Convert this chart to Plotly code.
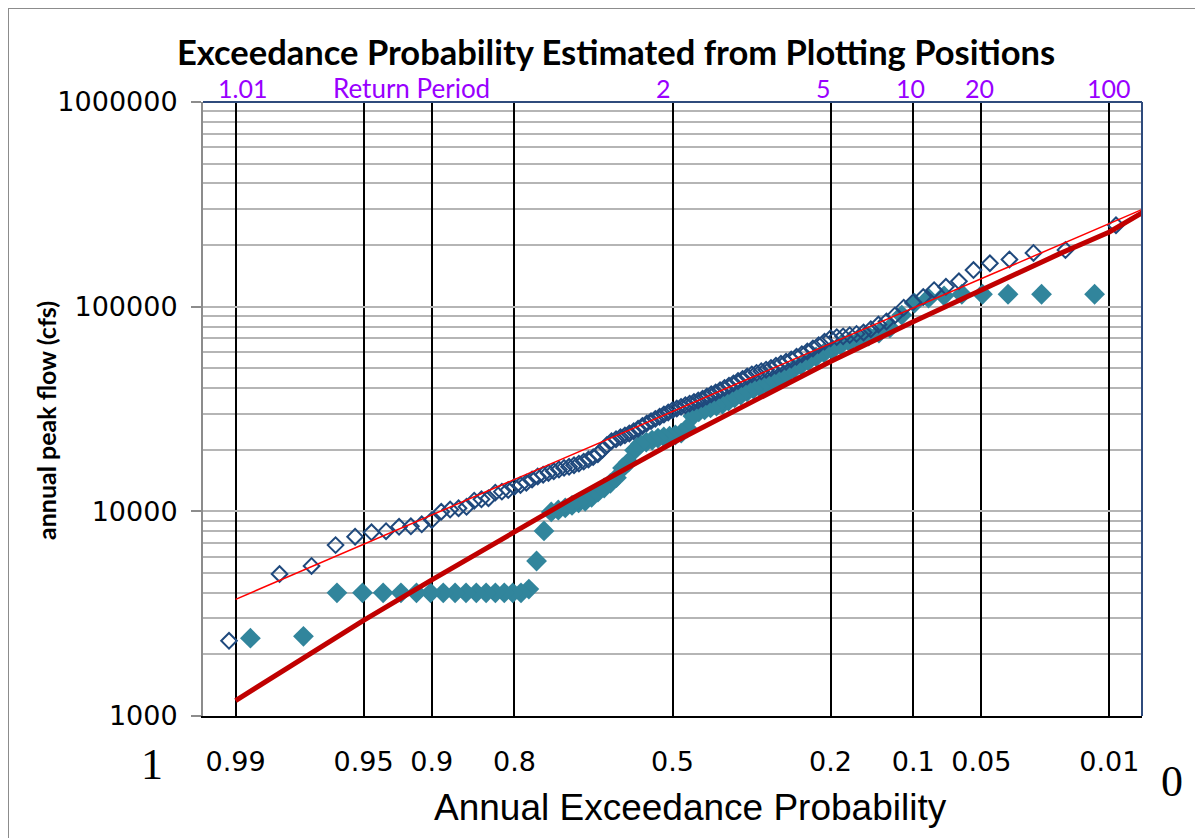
import plotly.graph_objects as go
from statistics import NormalDist

# ---------------- data ----------------
# Series 1 (open diamonds): exceedance probability and annual peak flow (cfs)
open_prob = [
    0.0091, 0.0182, 0.0273, 0.0364, 0.0455, 0.0545, 0.0636, 0.0727, 0.0818, 0.0909,
    0.1000, 0.1091, 0.1182, 0.1273, 0.1364, 0.1455, 0.1545, 0.1636, 0.1727, 0.1818,
    0.1909, 0.2000, 0.2091, 0.2182, 0.2273, 0.2364, 0.2455, 0.2545, 0.2636, 0.2727,
    0.2818, 0.2909, 0.3000, 0.3091, 0.3182, 0.3273, 0.3364, 0.3455, 0.3545, 0.3636,
    0.3727, 0.3818, 0.3909, 0.4000, 0.4091, 0.4182, 0.4273, 0.4364, 0.4455, 0.4545,
    0.4636, 0.4727, 0.4818, 0.4909, 0.5000, 0.5091, 0.5182, 0.5273, 0.5364, 0.5455,
    0.5545, 0.5636, 0.5727, 0.5818, 0.5909, 0.6000, 0.6091, 0.6182, 0.6273, 0.6364,
    0.6455, 0.6545, 0.6636, 0.6727, 0.6818, 0.6909, 0.7000, 0.7091, 0.7182, 0.7273,
    0.7364, 0.7455, 0.7545, 0.7636, 0.7727, 0.7818, 0.7909, 0.8000, 0.8091, 0.8182,
    0.8273, 0.8364, 0.8455, 0.8545, 0.8636, 0.8727, 0.8818, 0.8909, 0.9000, 0.9091,
    0.9182, 0.9273, 0.9364, 0.9455, 0.9545, 0.9636, 0.9727, 0.9818, 0.9909,
]
open_flow = [
    250000, 189000, 183000, 170000, 163000, 151000, 133000, 125000, 120500, 111400,
    105200, 98900, 90600, 84700, 81800, 77600, 74800, 73600, 72600, 71600,
    71000, 70100, 67500, 64900, 62500, 60400, 58600, 56900, 55200, 53800,
    52600, 51400, 50200, 49200, 48400, 47500, 46700, 45600, 44400, 43300,
    42200, 41100, 40100, 39100, 38100, 37300, 36400, 35500, 34800, 34200,
    33600, 33000, 32400, 31800, 31200, 30400, 29700, 29000, 28300, 27600,
    26900, 26100, 25300, 24600, 24000, 23500, 23000, 22500, 22000, 21100,
    20000, 19000, 18400, 17900, 17500, 17100, 16800, 16500, 16300, 16000,
    15700, 15400, 15100, 14800, 14300, 13800, 13450, 13190, 12710, 12480,
    12340, 11590, 11450, 11270, 10520, 10350, 10200, 9950, 9060, 8640,
    8450, 8400, 8000, 7900, 7520, 6840, 5410, 4940, 2330,
]

# Series 2 (filled diamonds)
filled_prob = [
    0.0123, 0.0247, 0.0370, 0.0494, 0.0617, 0.0741, 0.0864, 0.0988, 0.1111, 0.1235,
    0.1358, 0.1481, 0.1605, 0.1728, 0.1852, 0.1975, 0.2099, 0.2222, 0.2346, 0.2469,
    0.2593, 0.2716, 0.2840, 0.2963, 0.3086, 0.3210, 0.3333, 0.3457, 0.3580, 0.3704,
    0.3827, 0.3951, 0.4074, 0.4198, 0.4321, 0.4444, 0.4568, 0.4691, 0.4815, 0.4938,
    0.5062, 0.5185, 0.5309, 0.5432, 0.5556, 0.5679, 0.5802, 0.5926, 0.6049, 0.6173,
    0.6296, 0.6420, 0.6543, 0.6667, 0.6790, 0.6914, 0.7037, 0.7160, 0.7284, 0.7407,
    0.7531, 0.7654, 0.7778, 0.7901, 0.8025, 0.8148, 0.8272, 0.8395, 0.8519, 0.8642,
    0.8765, 0.8889, 0.9012, 0.9136, 0.9259, 0.9383, 0.9506, 0.9630, 0.9753, 0.9877,
]
filled_flow = [
    115000, 115000, 115000, 115000, 115000, 113000, 110000, 104000, 91000, 78700,
    74300, 71800, 68700, 67200, 64900, 61400, 59400, 56800, 54300, 51800,
    49600, 46900, 44800, 43300, 41900, 40500, 39600, 38300, 37000, 35800,
    34600, 33400, 32700, 32000, 31300, 30600, 29200, 25500, 24100, 23600,
    23300, 23100, 22800, 22300, 21800, 21300, 19900, 17400, 16300, 14600,
    13700, 13000, 12400, 11700, 11200, 11000, 10700, 10400, 10150, 9930,
    8020, 5720, 4170, 4000, 4000, 4000, 4000, 4000, 4000, 4000,
    4000, 4000, 4000, 4000, 4000, 4000, 4000, 4000, 2450, 2400,
]

# Fitted frequency curves
thick_fit_prob = [0.99, 0.98, 0.95, 0.9, 0.8, 0.7, 0.5, 0.3, 0.2, 0.1, 0.05, 0.02, 0.01, 0.0061]
thick_fit_flow = [1190, 1712, 2935, 4620, 7925, 11700, 21570, 38450, 54000, 84500, 121100, 180100, 231700, 290000]
thin_fit_prob = [0.99, 0.5, 0.01, 0.0061]
thin_fit_flow = [3715, 30700, 254000, 300000]

# Axis labels
prob_ticks = [0.99, 0.95, 0.9, 0.8, 0.5, 0.2, 0.1, 0.05, 0.01]
prob_tick_text = ["0.99", "0.95", "0.9", "0.8", "0.5", "0.2", "0.1", "0.05", "0.01"]
flow_ticks = [1000, 10000, 100000, 1000000]
flow_tick_text = ["1000", "10000", "100000", "1000000"]
return_periods = [1.01, 2, 5, 10, 20, 100]
return_labels = ["1.01", "2", "5", "10", "20", "100"]
return_shift = [8, -9, -7, -3, -2, 0]

# ---------------- helpers ----------------
nd = NormalDist()


def zq(p):
    """Normal-probability scale position of an exceedance probability."""
    return nd.inv_cdf(1 - p)


fig = go.Figure()

fig.add_trace(go.Scatter(
    x=[zq(p) for p in filled_prob], y=filled_flow, mode="markers",
    marker=dict(symbol="diamond", size=16, color="#31859C", line=dict(width=0)),
))
fig.add_trace(go.Scatter(
    x=[zq(p) for p in open_prob], y=open_flow, mode="markers",
    marker=dict(symbol="diamond-open", size=12, color="#1F497D",
                line=dict(width=2, color="#1F497D")),
))
fig.add_trace(go.Scatter(
    x=[zq(p) for p in thin_fit_prob], y=thin_fit_flow, mode="lines",
    line=dict(color="#FF0000", width=1.5),
))
fig.add_trace(go.Scatter(
    x=[zq(p) for p in thick_fit_prob], y=thick_fit_flow, mode="lines",
    line=dict(color="#C00000", width=5),
))

minor_flow = [k * 10 ** d for d in (3, 4, 5) for k in range(2, 10)]

# page has an 8px body margin; the figure is sized to fill the rest of the window
OFF = 8
W, H = 1195, 830
L, R, T, B = 195, 61, 94, 122
PW, PH = W - L - R, H - T - B


def px(xp):
    """page x pixel -> paper coordinate"""
    return (xp - OFF - L) / PW


def py(yp):
    """page y pixel -> paper coordinate"""
    return (H - B - (yp - OFF)) / PH


fig.update_layout(
    width=W, height=H,
    margin=dict(l=L, r=R, t=T, b=B, pad=0),
    paper_bgcolor="white", plot_bgcolor="white",
    showlegend=False,
    xaxis=dict(
        range=[-2.5, 2.5], tickvals=[zq(p) for p in prob_ticks], ticktext=prob_tick_text,
        showgrid=True, gridcolor="#000000", gridwidth=1.5, zeroline=False,
        ticks="", showline=True, linecolor="#000000", linewidth=2,
        tickfont=dict(family="DejaVu Sans", size=27, color="#000000"),
        ticklabelstandoff=21,
    ),
    yaxis=dict(
        type="log", range=[3, 6], tickvals=flow_ticks, ticktext=flow_tick_text,
        showgrid=True, gridcolor="#B5B5B5", gridwidth=2, zeroline=False,
        minor=dict(tickvals=minor_flow, showgrid=True, gridcolor="#B5B5B5", gridwidth=2, ticks=""),
        ticks="outside", ticklen=10, tickwidth=2, tickcolor="#8C8C8C",
        showline=True, linecolor="#8C8C8C", linewidth=2,
        tickfont=dict(family="DejaVu Sans", size=27, color="#000000"),
        ticklabelstandoff=8,
    ),
)

shapes = [
    # top and right plot borders
    dict(type="line", xref="paper", yref="paper", x0=0, x1=1, y0=1, y1=1,
         line=dict(color="#2F4B7C", width=2)),
    dict(type="line", xref="paper", yref="paper", x0=1, x1=1, y0=0, y1=1,
         line=dict(color="#2F4B7C", width=2)),
    # outer chart frame
    dict(type="rect", xref="paper", yref="paper", x0=px(8), x1=px(1196), y0=py(850), y1=py(8),
         line=dict(color="#8C8C8C", width=2), fillcolor="rgba(0,0,0,0)", layer="below"),
]
fig.update_layout(shapes=shapes)

ann = []
ann.append(dict(text="<b>Exceedance Probability Estimated from Plotting Positions</b>",
                xref="paper", yref="paper", x=px(616), y=py(52), showarrow=False,
                font=dict(family="Lato", size=34.5, color="#000000"),
                xanchor="center", yanchor="middle"))
for T_, lab, sh in zip(return_periods, return_labels, return_shift):
    ann.append(dict(text=lab, xref="x", yref="paper", x=zq(1 / T_), y=py(88), xshift=sh,
                    showarrow=False, font=dict(family="Lato", size=25, color="#9900FF"),
                    xanchor="center", yanchor="middle"))
ann.append(dict(text="Return Period", xref="paper", yref="paper", x=px(411), y=py(88),
                showarrow=False, font=dict(family="Lato", size=26, color="#9900FF"),
                xanchor="center", yanchor="middle"))
ann.append(dict(text="<b>annual peak flow (cfs)</b>", xref="paper", yref="paper",
                x=px(46), y=py(421), textangle=-90, showarrow=False,
                font=dict(family="Lato", size=25, color="#000000"),
                xanchor="center", yanchor="middle"))
ann.append(dict(text="Annual Exceedance Probability", xref="paper", yref="paper",
                x=px(690), y=py(807), showarrow=False,
                font=dict(family="Liberation Sans", size=37, color="#000000"),
                xanchor="center", yanchor="middle"))
ann.append(dict(text="1", xref="paper", yref="paper", x=px(152), y=py(764), showarrow=False,
                font=dict(family="Liberation Serif", size=44, color="#000000"),
                xanchor="center", yanchor="middle"))
ann.append(dict(text="0", xref="paper", yref="paper", x=px(1172), y=py(781), showarrow=False,
                font=dict(family="Liberation Serif", size=44, color="#000000"),
                xanchor="center", yanchor="middle"))
fig.update_layout(annotations=ann)

fig.write_html("out.html")
